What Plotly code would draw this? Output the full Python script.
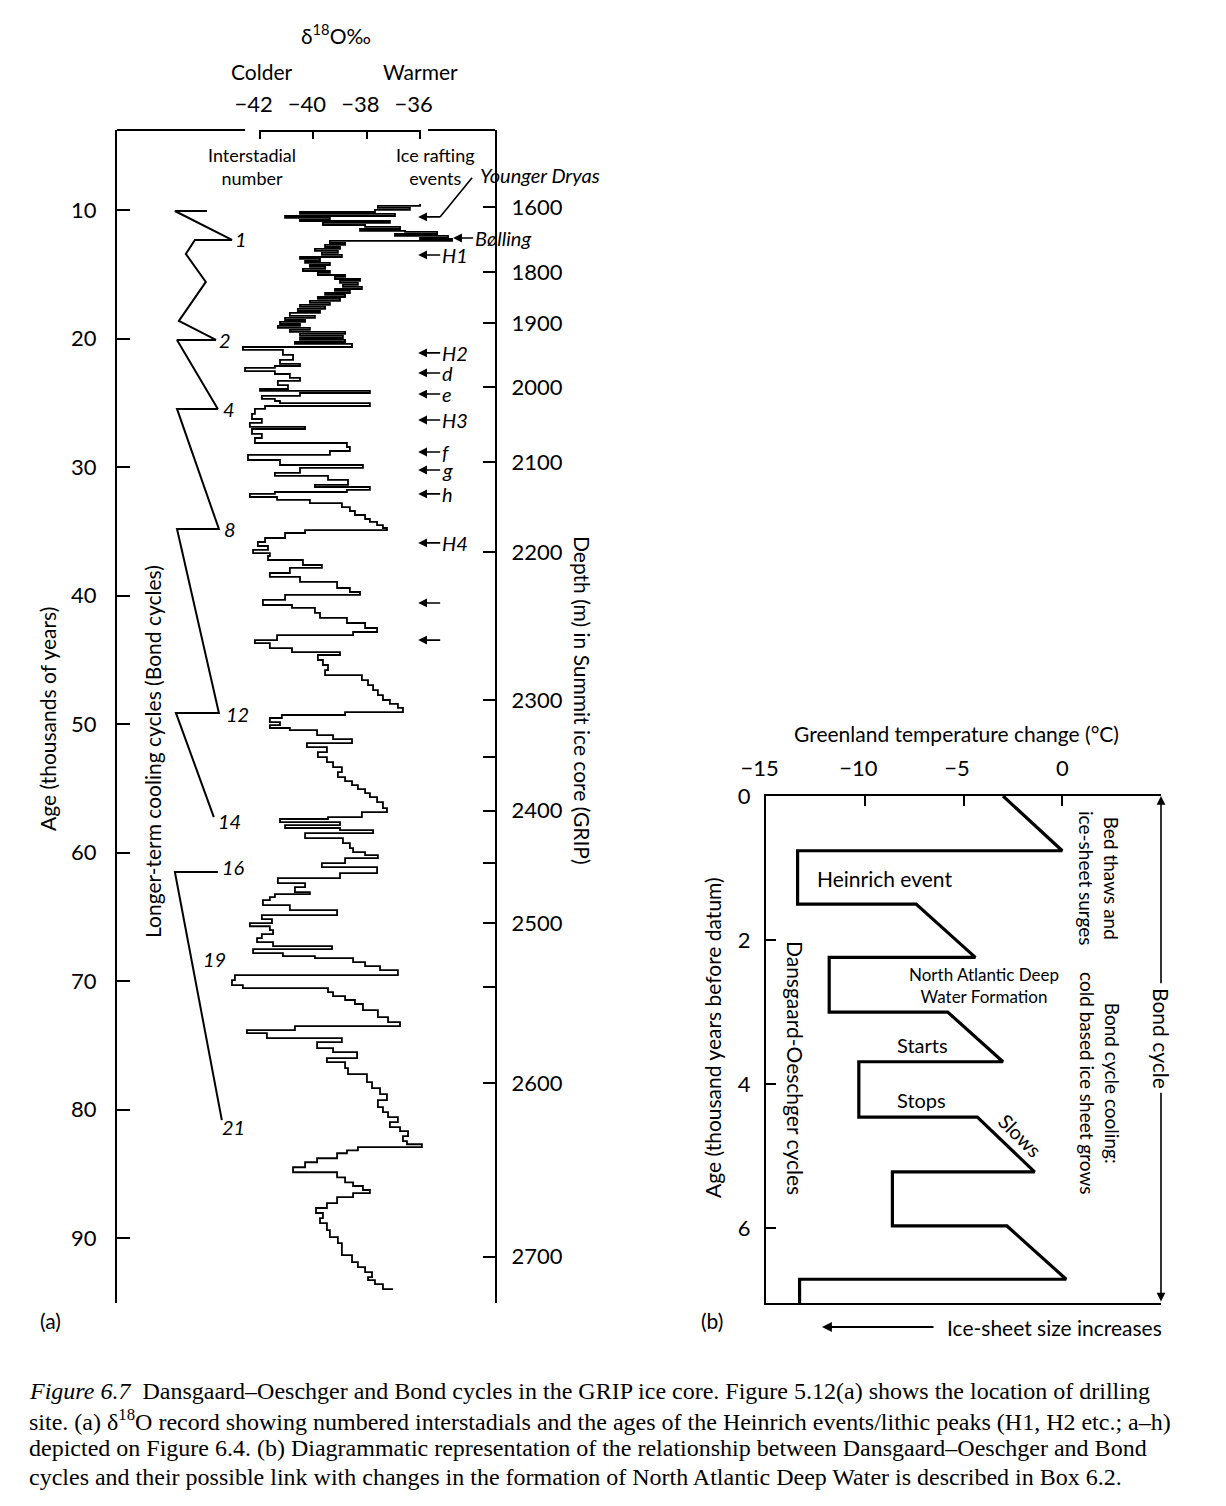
import plotly.graph_objects as go

W, H = 1226, 1506
FONT = "Lato, 'Open Sans', sans-serif"
SERIF = "'Liberation Serif', 'DejaVu Serif', serif"

# ---------------- Panel (a): GRIP delta-18O record ----------------
age_ka = [
    9.53, 9.69, 9.84, 10.0, 10.16, 10.31, 10.47, 10.62, 10.78, 10.86,
    11.01, 11.17, 11.32, 11.48, 11.63, 11.71, 11.87, 12.02, 12.18, 12.26,
    12.41, 12.57, 12.72, 12.88, 13.03, 13.19, 13.34, 13.5, 13.66, 13.81,
    13.97, 14.12, 14.28, 14.43, 14.59, 14.75, 14.9, 15.06, 15.21, 15.37,
    15.52, 15.68, 15.83, 15.99, 16.15, 16.3, 16.46, 16.61, 16.77, 16.92,
    17.08, 17.23, 17.39, 17.54, 17.7, 17.86, 18.01, 18.24, 18.4, 18.56,
    18.71, 18.87, 19.02, 19.18, 19.33, 19.49, 19.64, 19.8, 19.96, 20.11,
    20.27, 20.42, 20.66, 20.89, 21.28, 21.67, 21.98, 22.14, 22.29, 22.53,
    22.76, 23.07, 23.3, 23.62, 23.93, 24.08, 24.24, 24.47, 24.7, 24.86,
    25.02, 25.25, 25.48, 25.87, 26.26, 26.57, 26.88, 27.04, 27.42, 27.74,
    28.13, 28.44, 28.75, 29.06, 29.45, 29.84, 30.07, 30.46, 30.69, 31.0,
    31.39, 31.55, 31.78, 31.94, 32.09, 32.33, 32.56, 32.8, 33.11, 33.42,
    33.73, 34.04, 34.27, 34.51, 34.74, 34.9, 35.13, 35.52, 35.83, 36.14,
    36.45, 36.69, 36.92, 37.23, 37.62, 37.85, 38.24, 38.55, 38.94, 39.41,
    39.72, 39.95, 40.34, 40.73, 40.96, 41.35, 41.74, 42.13, 42.52, 42.83,
    43.07, 43.46, 43.69, 44.08, 44.39, 44.62, 45.01, 45.4, 45.79, 46.18,
    46.57, 46.96, 47.35, 47.74, 48.12, 48.43, 48.74, 49.06, 49.29, 49.52,
    49.84, 50.07, 50.3, 50.46, 50.85, 51.16, 51.47, 51.78, 52.17, 52.56,
    52.95, 53.34, 53.73, 54.12, 54.43, 54.74, 55.05, 55.36, 55.67, 56.06,
    56.53, 56.84, 57.23, 57.38, 57.62, 57.85, 58.08, 58.24, 58.47, 58.86,
    59.25, 59.64, 59.95, 60.19, 60.42, 60.81, 61.12, 61.59, 61.98, 62.37,
    62.68, 63.07, 63.22, 63.46, 63.69, 64.08, 64.47, 64.86, 65.17, 65.48,
    65.72, 66.03, 66.34, 66.65, 66.96, 67.27, 67.5, 67.81, 68.04, 68.2,
    68.51, 68.82, 69.13, 69.52, 69.91, 70.3, 70.53, 70.84, 71.15, 71.46,
    71.77, 72.24, 72.79, 73.18, 73.49, 73.8, 74.03, 74.42, 74.73, 75.2,
    75.51, 75.98, 76.29, 76.76, 77.22, 77.85, 78.31, 78.78, 79.25, 79.79,
    80.18, 80.57, 80.96, 81.35, 81.66, 82.05, 82.44, 82.68, 82.91, 83.15,
    83.38, 83.77, 84.08, 84.47, 84.86, 85.25, 85.64, 85.93, 86.24, 86.48,
    86.79, 87.26, 87.64, 88.03, 88.42, 88.81, 89.36, 89.9, 90.37, 91.3,
    91.85, 92.24, 92.63, 93.02, 93.25, 93.56, 93.95,
]
d18o = [
    -36.0, -37.58, -36.38, -37.69, -40.5, -36.94, -41.06, -39.38, -40.5, -37.13,
    -39.64, -38.06, -36.75, -38.25, -36.56, -35.36, -36.94, -34.95, -36.0, -34.8,
    -39.38, -38.81, -39.56, -39.0, -39.94, -39.08, -39.68, -38.93, -40.5, -39.75,
    -40.31, -39.38, -40.13, -39.56, -40.39, -39.38, -39.83, -38.81, -39.19, -38.25,
    -39.0, -38.33, -38.89, -38.18, -39.19, -38.63, -39.56, -38.81, -39.83, -39.0,
    -40.13, -39.38, -40.5, -39.56, -40.58, -39.75, -40.88, -39.94, -41.06, -40.31,
    -41.25, -40.5, -41.33, -40.13, -40.88, -38.81, -40.5, -38.89, -40.5, -38.81,
    -40.69, -38.55, -42.64, -41.14, -40.76, -41.25, -40.5, -41.44, -42.56, -41.44,
    -40.88, -40.5, -41.33, -40.95, -42.0, -37.88, -40.5, -41.93, -41.44, -41.25,
    -37.88, -41.81, -42.19, -42.3, -41.93, -42.38, -40.31, -42.3, -41.93, -42.19,
    -38.74, -38.63, -39.38, -42.45, -41.25, -38.14, -40.5, -41.44, -39.45, -38.7,
    -39.94, -37.88, -38.74, -41.44, -42.38, -41.36, -40.13, -38.93, -38.63, -38.44,
    -38.06, -37.88, -37.61, -37.39, -37.24, -40.31, -41.06, -41.81, -42.08, -41.7,
    -42.26, -41.63, -41.7, -40.39, -39.68, -40.88, -41.63, -40.5, -39.11, -38.63,
    -38.25, -41.06, -41.89, -40.8, -39.94, -39.75, -38.74, -38.06, -37.61, -38.51,
    -41.36, -42.19, -41.63, -40.8, -39.0, -39.83, -39.64, -39.45, -39.56, -38.18,
    -37.95, -37.76, -37.58, -37.39, -37.13, -36.83, -36.64, -38.81, -41.18, -41.63,
    -41.25, -41.63, -40.88, -39.86, -39.26, -38.55, -40.24, -39.49, -39.83, -39.49,
    -39.26, -38.93, -39.08, -38.81, -38.55, -38.33, -38.06, -37.88, -37.61, -37.39,
    -37.24, -38.18, -39.45, -41.25, -39.0, -41.06, -39.0, -37.76, -40.31, -38.89,
    -38.63, -38.51, -38.06, -37.58, -38.81, -39.68, -37.61, -39.0, -41.33, -40.31,
    -40.69, -40.13, -41.44, -41.63, -41.89, -40.88, -39.11, -41.93, -41.55, -42.38,
    -41.63, -41.51, -41.93, -42.11, -41.51, -39.3, -42.26, -41.14, -39.94, -38.51,
    -38.06, -37.5, -36.83, -42.94, -43.05, -42.64, -39.45, -39.26, -38.81, -38.44,
    -38.14, -37.58, -37.2, -36.75, -40.69, -42.49, -41.74, -38.93, -39.86, -39.26,
    -38.36, -39.49, -38.81, -38.7, -37.99, -37.8, -37.5, -37.24, -37.58, -37.39,
    -37.2, -36.83, -37.13, -36.75, -36.45, -36.64, -36.49, -35.93, -38.33, -38.74,
    -39.11, -39.86, -40.31, -40.76, -39.11, -38.81, -38.51, -38.14, -37.88, -38.51,
    -39.11, -39.49, -39.9, -39.64, -39.75, -39.49, -39.38, -39.08, -38.93, -38.55,
    -38.33, -38.06, -37.8, -37.95, -37.69, -37.39, -37.01,
]

# Bond-cycle sawtooth (schematic, drawn on the same axes)
bond1_d18o = [-43.99, -45.19, -43.05, -44.44, -44.78, -44.03, -45.04, -43.65,
              -45.11, -43.58, -45.11, -43.54, -45.11, -43.54, -45.15, -43.73]
bond1_age = [10.08, 10.08, 12.33, 12.33, 13.42, 15.6, 18.63, 20.11,
             20.11, 25.48, 25.48, 34.82, 34.82, 49.13, 49.13, 57.23]
bond2_d18o = [-43.58, -45.19, -43.43]
bond2_age = [61.5, 61.5, 80.8]

interstadial_labels = ["1", "2", "4", "8", "12", "14", "16", "19", "21"]
interstadial_d18o = [-42.71, -43.31, -43.16, -43.13, -42.83, -43.16, -43.01, -43.69, -43.01]
interstadial_age = [12.26, 20.11, 25.48, 34.82, 49.21, 57.54, 61.12, 68.27, 81.35]

event_labels = ["H1", "H2", "d", "e", "H3", "f", "g", "h", "H4", "", ""]
event_age = [13.5, 21.12, 22.68, 24.32, 26.34, 28.83, 30.23, 32.09, 35.9, 40.57, 43.46]
younger_dryas_age = 10.54
bolling_age = 12.18
bolling_d18o = -34.76

d18o_ticks = [-42, -40, -38, -36]
age_ticks = [10, 20, 30, 40, 50, 60, 70, 80, 90]
depth_labels = ["1600", "1800", "1900", "2000", "2100", "2200", "2300", "",
                "2400", "", "2500", "", "2600", "2700"]
depth_age = [9.77, 14.82, 18.79, 23.77, 29.60, 36.60, 48.11, 52.54,
             56.74, 60.79, 65.46, 70.43, 77.90, 91.43]

# ---------------- Panel (b): schematic D-O / Bond cycle ----------------
temp_change = [-3.0, 0.0, -13.4, -13.4, -7.4, -4.4, -11.8, -11.8, -5.8, -3.0,
               -10.3, -10.3, -4.3, -1.4, -8.6, -8.6, -2.8, 0.2, -13.3, -13.3]
cycle_age = [0.0, 0.76, 0.76, 1.5, 1.5, 2.24, 2.24, 3.0, 3.0, 3.69,
             3.69, 4.46, 4.46, 5.22, 5.22, 5.97, 5.97, 6.71, 6.71, 7.1]
temp_ticks = [-15, -10, -5, 0]
bage_ticks = [0, 2, 4, 6]

caption_lines = [
    "<i>Figure 6.7</i>  Dansgaard\u2013Oeschger and Bond cycles in the GRIP ice core. "
    "Figure 5.12(a) shows the location of drilling",
    "site. (a) \u03b4<sup>18</sup>O record showing numbered interstadials and the ages of the "
    "Heinrich events/lithic peaks (H1, H2 etc.; a\u2013h)",
    "depicted on Figure 6.4. (b) Diagrammatic representation of the relationship between "
    "Dansgaard\u2013Oeschger and Bond",
    "cycles and their possible link with changes in the formation of North Atlantic Deep "
    "Water is described in Box 6.2.",
]


def px(x):
    return x / W


def py(y):
    return 1 - y / H


def neg_label(v):
    if v < 0:
        return "\u2212%d<span style='color:rgba(0,0,0,0)'>\u2212</span>" % abs(v)
    return "%d" % v


fig = go.Figure()
fig.add_trace(go.Scatter(x=d18o, y=age_ka, mode="lines", xaxis="x", yaxis="y",
                         line=dict(color="black", width=1.8, shape="vh"), hoverinfo="skip"))
fig.add_trace(go.Scatter(x=d18o, y=age_ka, mode="lines", xaxis="x", yaxis="y2",
                         line=dict(color="rgba(0,0,0,0)", width=0), hoverinfo="skip"))
fig.add_trace(go.Scatter(x=bond1_d18o, y=bond1_age, mode="lines", xaxis="x", yaxis="y",
                         line=dict(color="black", width=2), hoverinfo="skip"))
fig.add_trace(go.Scatter(x=bond2_d18o, y=bond2_age, mode="lines", xaxis="x", yaxis="y",
                         line=dict(color="black", width=2), hoverinfo="skip"))
fig.add_trace(go.Scatter(x=temp_change, y=cycle_age, mode="lines", xaxis="x2", yaxis="y3",
                         line=dict(color="black", width=3.2), hoverinfo="skip"))

tickfont = dict(family=FONT, size=22, color="black")
common = dict(showgrid=False, zeroline=False, color="black", tickfont=tickfont,
              automargin=False)

fig.update_layout(
    width=W, height=H, autosize=False, showlegend=False,
    margin=dict(l=0, r=0, t=0, b=0, pad=0),
    paper_bgcolor="white", plot_bgcolor="white",
    font=dict(family=FONT, color="black"),
    xaxis=dict(domain=[px(117), px(495)], range=[-47.36, -33.19], side="top", anchor="y",
               tickvals=d18o_ticks, ticktext=[neg_label(v) for v in d18o_ticks], tickangle=0,
               ticks="inside", ticklen=9, tickwidth=1.8, tickcolor="black",
               showline=False, ticklabelstandoff=13, **common),
    yaxis=dict(domain=[py(1303), py(130)], range=[95.03, 3.78], anchor="x", side="left",
               tickvals=age_ticks, ticks="inside", ticklen=13, tickwidth=2, tickcolor="black",
               showline=True, linewidth=2, linecolor="black", ticklabelstandoff=14, **common),
    yaxis2=dict(overlaying="y", range=[95.03, 3.78], anchor="x", side="right",
                tickvals=depth_age, ticktext=depth_labels, ticks="inside", ticklen=12,
                tickwidth=2, tickcolor="black", showline=True, linewidth=2,
                linecolor="black", ticklabelstandoff=10, **common),
    xaxis2=dict(domain=[px(766), px(1161)], range=[-15, 5], side="top", anchor="y3",
                tickvals=temp_ticks, ticktext=[neg_label(v) for v in temp_ticks], tickangle=0,
                ticks="inside", ticklen=10, tickwidth=2, tickcolor="black",
                showline=True, mirror=True, linewidth=2, linecolor="black",
                ticklabelstandoff=9, **common),
    yaxis3=dict(domain=[py(1303), py(796)], range=[7.04, 0], anchor="x2", side="left",
                tickvals=bage_ticks, ticks="inside", ticklen=10, tickwidth=2,
                tickcolor="black", showline=True, linewidth=2, linecolor="black",
                ticklabelstandoff=9, **common),
)

shapes = [
    dict(type="line", xref="paper", yref="paper", x0=px(117), x1=px(245), y0=py(130), y1=py(130),
         line=dict(color="black", width=2)),
    dict(type="line", xref="x", yref="paper", x0=-42, x1=-36, y0=py(131), y1=py(131),
         line=dict(color="black", width=2)),
    dict(type="line", xref="paper", yref="paper", x0=px(428), x1=px(495), y0=py(130), y1=py(130),
         line=dict(color="black", width=2)),
    dict(type="line", xref="x", yref="y", x0=-35.25, x1=-34.05, y0=younger_dryas_age, y1=7.5,
         line=dict(color="black", width=1.6)),
]

anns = []


def text(t, x, y, size=21, angle=0, italic=False, xanchor="center", yanchor="middle",
         family=FONT, align="center", bg=None):
    if italic:
        t = "<i>%s</i>" % t
    a = dict(text=t, x=px(x), y=py(y), xref="paper", yref="paper", showarrow=False,
             font=dict(family=family, size=size, color="black"), textangle=angle,
             xanchor=xanchor, yanchor=yanchor, align=align)
    if bg:
        a["bgcolor"] = bg
    anns.append(a)


# panel (a) labels
text("\u03b4<sup>18</sup>O\u2030", 336, 34, 21)
text("Colder", 262, 72, 21)
text("Warmer", 420, 72, 21)
text("Interstadial<br>number", 252, 166, 18)
text("Ice rafting<br>events", 435, 166, 18)
text("Age (thousands of years)", 47, 719, 21, angle=-90)
text("Longer-term cooling cycles (Bond cycles)", 152, 752, 21, angle=-90)
text("Depth (m) in Summit ice core (GRIP)", 583, 700, 21, angle=90)
text("(a)", 50, 1320, 21)
text("Younger Dryas", 478, 175, 20, italic=True, xanchor="left")

for lab, xd, ya in zip(interstadial_labels, interstadial_d18o, interstadial_age):
    anns.append(dict(text="<i>%s</i>" % lab, x=xd, y=ya, xref="x", yref="y", showarrow=False,
                     font=dict(family=FONT, size=20, color="black")))

arrow_style = dict(showarrow=True, arrowhead=2, arrowsize=1.1, arrowwidth=1.6,
                   arrowcolor="black", ay=0, xanchor="left", yanchor="middle",
                   font=dict(family=FONT, size=20, color="black"))
for lab, ya in zip(event_labels, event_age):
    anns.append(dict(text="<i>%s</i>" % lab if lab else "", x=-36.07, y=ya, xref="x", yref="y",
                     ax=22, **arrow_style))
anns.append(dict(text="", x=-36.07, y=younger_dryas_age, xref="x", yref="y", ax=22, **arrow_style))
anns.append(dict(text="<i>B\u00f8lling</i>", x=bolling_d18o, y=bolling_age, xref="x", yref="y",
                 ax=20, **arrow_style))

# panel (b) labels
text("Greenland temperature change (\u00b0C)", 956, 733, 21)
text("Heinrich event", 884, 878, 21)
text("North Atlantic Deep<br>Water Formation", 984, 985, 17)
text("Starts", 922, 1045, 20)
text("Stops", 921, 1100, 20)
text("Slows", 1020, 1135, 20, angle=45)
text("Dansgaard-Oeschger cycles", 796, 1068, 21, angle=90)
text("Bed thaws and<br>ice-sheet surges", 1099, 878, 19, angle=90)
text("Bond cycle cooling:<br>cold based ice sheet grows", 1100, 1083, 19, angle=90)
text("Bond cycle", 1162, 1038, 21, angle=90)
text("Age (thousand years before datum)", 712, 1038, 21, angle=-90)
text("(b)", 712, 1320, 21)
text("Ice-sheet size increases", 945, 1327, 21, xanchor="left")

anns.append(dict(text="", x=5, y=0, xref="x2", yref="y3", ax=5, ay=2.62, axref="x2", ayref="y3",
                 showarrow=True, arrowhead=2, arrowsize=1.1, arrowwidth=1.6, arrowcolor="black"))
anns.append(dict(text="", x=5, y=7.02, xref="x2", yref="y3", ax=5, ay=4.1, axref="x2", ayref="y3",
                 showarrow=True, arrowhead=2, arrowsize=1.1, arrowwidth=1.6, arrowcolor="black"))
anns.append(dict(text="", x=px(822), y=py(1327), xref="paper", yref="paper", ax=113, ay=0,
                 showarrow=True, arrowhead=2, arrowsize=1.1, arrowwidth=1.8, arrowcolor="black"))

for i, line in enumerate(caption_lines):
    text(line, 27, 1391 + 28.7 * i, 24, xanchor="left", family=SERIF, align="left")

fig.update_layout(shapes=shapes, annotations=anns)

fig.write_html("out.html", config={"displayModeBar": False},
               post_script="document.body.style.margin='0';")
